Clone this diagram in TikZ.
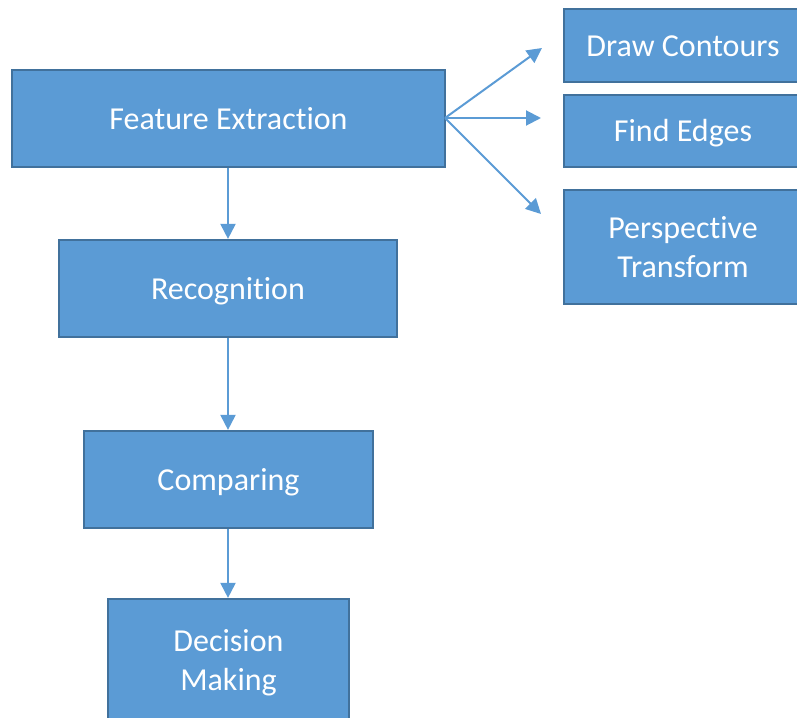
\documentclass[tikz,border=0pt]{standalone}
\usepackage{fontspec}
\setmainfont{Carlito}[Ligatures=NoCommon]
\usetikzlibrary{arrows.meta}
\definecolor{boxfill}{HTML}{5B9BD5}
\definecolor{boxline}{HTML}{41719C}
\tikzset{
  stagebox/.style={draw=boxline, fill=boxfill, line width=2.2pt, inner sep=0pt,
    text=white, align=center, font=\fontsize{32}{39}\selectfont,
    text height=30.5pt, text depth=8.6pt},
  twolines/.style={text height=69.5pt, text depth=8.6pt},
  flow/.style={draw=boxfill, line width=2pt, -{Triangle[length=15pt,width=15pt]}}
}
\begin{document}
\begin{tikzpicture}[x=1pt, y=-1pt]
  \useasboundingbox (0,0) rectangle (797,717);
  \clip (0,0) rectangle (797,717);
  % main pipeline
  \node[stagebox, minimum width=433pt, minimum height=97pt] (fe) at (228.5,118.5) {Feature Extraction};
  \node[stagebox, minimum width=338pt, minimum height=97pt] (rec) at (228,288.5) {Recognition};
  \node[stagebox, minimum width=289pt, minimum height=97pt] (cmp) at (228.5,479.5) {Comparing};
  \node[stagebox, twolines, minimum width=241pt, minimum height=122pt] (dec) at (228.5,660) {Decision\\Making};
  % feature extraction sub-steps
  \node[stagebox, minimum width=238pt, minimum height=73pt] (dc) at (683,45.5) {Draw Contours};
  \node[stagebox, minimum width=238pt, minimum height=72pt] (fed) at (683,131) {Find Edges};
  \node[stagebox, twolines, minimum width=238pt, minimum height=114pt] (pt) at (683,247) {Perspective\\Transform};
  % arrow ends in front of the sub-step boxes
  \coordinate (dcin) at (542,48);
  \coordinate (fedin) at (541,118);
  \coordinate (ptin) at (541,214);
  \coordinate (fesrc) at (445,118);
  % connectors
  \draw[flow] (fe.south -| 228,0) -- (rec.north -| 228,0);
  \draw[flow] (rec.south -| 228,0) -- (cmp.north -| 228,0);
  \draw[flow] (cmp.south -| 228,0) -- (dec.north -| 228,0);
  \draw[flow] (fesrc) -- (dcin);
  \draw[flow] (fesrc) -- (fedin);
  \draw[flow] (fesrc) -- (ptin);
\end{tikzpicture}
\end{document}
